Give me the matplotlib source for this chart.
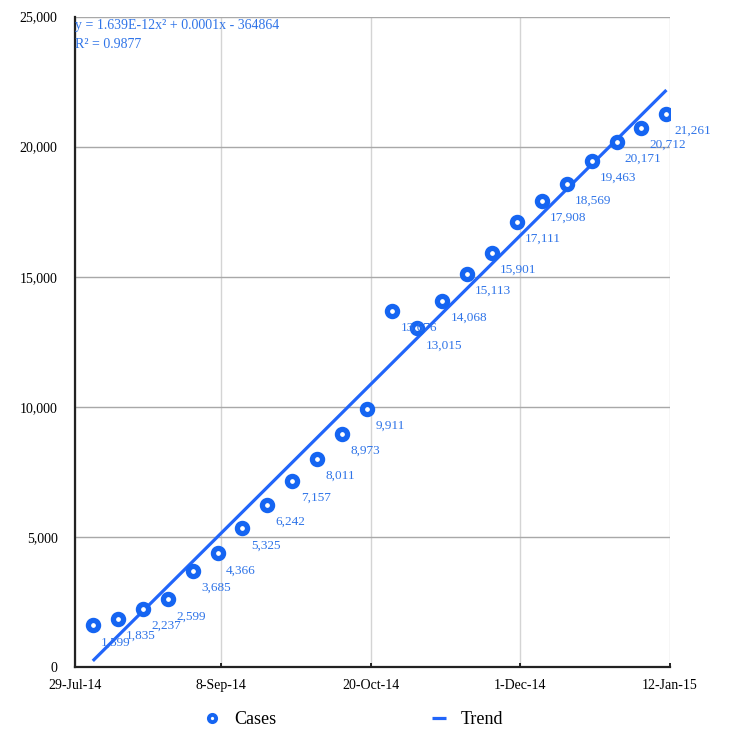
import matplotlib
matplotlib.use("Agg")
import matplotlib.pyplot as plt
import matplotlib.dates as mdates
from matplotlib.lines import Line2D
import numpy as np
import datetime as dt

plt.rcParams['font.family'] = ['Liberation Serif', 'DejaVu Serif']

# ---- data ----
start_date = dt.date(2014, 8, 3)
n_weeks = 24
dates = [start_date + dt.timedelta(days=7 * i) for i in range(n_weeks)]
cases = [1599, 1835, 2237, 2599, 3685, 4366, 5325, 6242, 7157, 8011, 8973, 9911,
         13676, 13015, 14068, 15113, 15901, 17111, 17908, 18569, 19463, 20171, 20712, 21261]
x_ticks = [dt.date(2014, 7, 29), dt.date(2014, 9, 8), dt.date(2014, 10, 20),
           dt.date(2014, 12, 1), dt.date(2015, 1, 12)]
x_tick_labels = ['29-Jul-14', '8-Sep-14', '20-Oct-14', '1-Dec-14', '12-Jan-15']
y_ticks = [0, 5000, 10000, 15000, 20000, 25000]
y_tick_labels = ['0', '5,000', '10,000', '15,000', '20,000', '25,000']
eq_text = 'y = 1.639E-12x² + 0.0001x - 364864'
r2_text = 'R² = 0.9877'

marker_blue = '#1565f2'
label_blue = '#2f74e8'
line_blue = '#2165fa'

fig = plt.figure(figsize=(7.29, 7.43), dpi=100)
ax = fig.add_axes([75 / 729, 1 - 667 / 743, (670 - 75) / 729, (667 - 16.5) / 743])

xnum = mdates.date2num(dates)
# trend line (least-squares fit of the cases)
coef = np.polyfit(xnum - xnum[0], cases, 1)
trend = np.polyval(coef, xnum - xnum[0])
ax.plot(dates, trend, color=line_blue, lw=2.3, solid_capstyle='butt', zorder=3)

ax.plot(dates, cases, linestyle='none', marker='o', ms=7.3, mew=3.8,
        mec=marker_blue, mfc='white', zorder=4)

for d, v in zip(dates, cases):
    ax.annotate(f'{v:,}', (d, v), xytext=(6.0, -12.2), textcoords='offset points',
                ha='left', va='center', fontsize=9.5, color=label_blue, zorder=5)

ax.set_xlim(mdates.date2num(x_ticks[0]), mdates.date2num(x_ticks[-1]))
ax.set_ylim(0, 25000)
ax.set_xticks([mdates.date2num(t) for t in x_ticks])
ax.set_xticklabels(x_tick_labels, fontsize=10)
ax.set_yticks(y_ticks)
ax.set_yticklabels(y_tick_labels, fontsize=10)
ax.tick_params(axis='x', direction='in', length=3, width=1.2, pad=8.5, colors='black')
ax.tick_params(axis='y', length=0, pad=12.5)

ax.grid(axis='y', color='#a8a8a8', lw=1.0, zorder=0)
ax.grid(axis='x', color='#d4d4d4', lw=1.0, zorder=0)
ax.set_axisbelow(True)
for s in ['top', 'right']:
    ax.spines[s].set_visible(False)
for s in ['left', 'bottom']:
    ax.spines[s].set_color('#222222')
    ax.spines[s].set_linewidth(1.6)

fig.text(75 / 729, 1 - 26 / 743, eq_text, fontsize=10, color=label_blue,
         ha='left', va='center')
fig.text(75 / 729, 1 - 45 / 743, r2_text, fontsize=10, color=label_blue,
         ha='left', va='center')

h1 = Line2D([], [], linestyle='none', marker='o', ms=5.2, mew=2.8,
            mec=marker_blue, mfc='white')
h2 = Line2D([], [], color=line_blue, lw=2.3, solid_capstyle='butt')
leg1 = fig.legend([h1], ['Cases'], loc='center left', bbox_to_anchor=(205 / 729, 23 / 743),
                  frameon=False, fontsize=13, handlelength=0.8, handletextpad=0.8,
                  borderpad=0, borderaxespad=0)
leg2 = fig.legend([h2], ['Trend'], loc='center left', bbox_to_anchor=(432 / 729, 23 / 743),
                  frameon=False, fontsize=13, handlelength=0.8, handletextpad=0.8,
                  borderpad=0, borderaxespad=0)

fig.savefig('out.png', dpi=100)
